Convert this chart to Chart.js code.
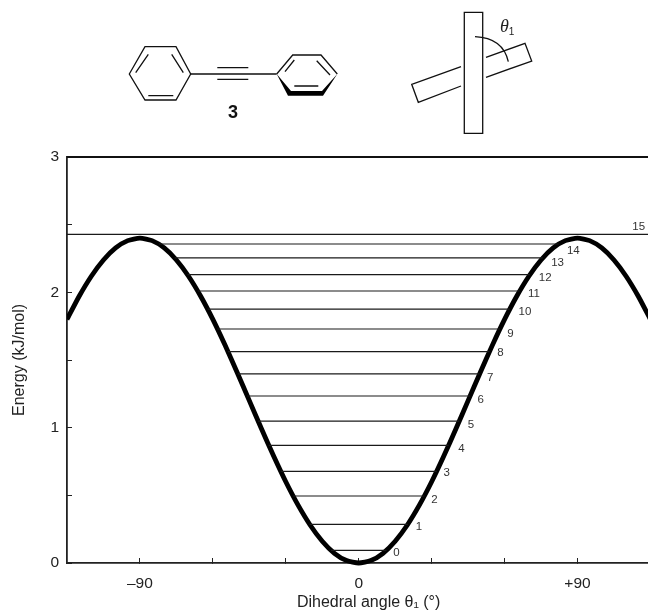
<!DOCTYPE html>
<html>
<head>
<meta charset="utf-8">
<title>Torsional energy levels</title>
<script src="https://cdn.jsdelivr.net/npm/chart.js@4"></script>
<style>
html,body{margin:0;padding:0;background:#fff;width:648px;height:610px;overflow:hidden}
#wrap{position:relative;width:648px;height:610px}
canvas{position:absolute;left:0;top:0}
svg{position:absolute;left:0;top:0;pointer-events:none}
</style>
</head>
<body>
<div id="wrap">
<canvas id="c" width="648" height="610"></canvas>
<svg width="648" height="150" viewBox="0 0 648 150" fill="none" stroke="#111" stroke-width="1.3">
  <path d="M129.3 74L145 46.7H176L190.7 74L176 100H145Z"/>
  <path d="M135.7 72.7L148.3 54.3M171.7 54.3L183.3 72.7M148.3 95.7H173.3"/>
  <path d="M190.7 74H276.7M217.3 67.7H248.3M217.3 79.3H248.3"/>
  <path d="M276.7 74L292.7 55H321L337.3 74"/>
  <path d="M285 71.7L294.3 60M316.7 60.7L330 75M294.3 86H318.3"/>
  <path d="M276.7 74L288 95.8H323L337.3 74L322 91H291Z" fill="#000" stroke="none"/>
  <text x="233" y="118" font-family="'Liberation Sans'" font-weight="700" font-size="18" fill="#111" stroke="none" text-anchor="middle">3</text>
  <path d="M464.3 12.3H482.7V133.3H464.3Z"/>
  <path d="M461 66.7L411.7 84.3L418.3 102.3L461 86M486 57.3L525 43.3L531.7 61L486 77.3"/>
  <path d="M475 36.7Q503 38 508.3 61.7"/>
  <text x="500" y="32" font-family="'Liberation Serif'" font-style="italic" font-size="18" fill="#222" stroke="none">θ<tspan font-size="10" dy="3" font-style="normal" font-family="'Liberation Sans'">1</tspan></text>
</svg>
</div>
<script>
const angles = [-120,-115,-110,-105,-100,-95,-90,-85,-80,-75,-70,-65,-60,-55,-50,-45,-40,-35,-30,-25,-20,-15,-10,-5,0,5,10,15,20,25,30,35,40,45,50,55,60,65,70,75,80,85,90,95,100,105,110,115,120];
const energies = [1.800,1.971,2.119,2.239,2.328,2.382,2.400,2.382,2.328,2.239,2.119,1.971,1.800,1.610,1.408,1.200,0.992,0.790,0.600,0.429,0.281,0.161,0.072,0.018,0,0.018,0.072,0.161,0.281,0.429,0.600,0.790,0.992,1.200,1.408,1.610,1.800,1.971,2.119,2.239,2.328,2.382,2.400,2.382,2.328,2.239,2.119,1.971,1.800];
const levelNames = ['0','1','2','3','4','5','6','7','8','9','10','11','12','13','14','15'];
const levelEnergy = [0.094,0.286,0.495,0.677,0.869,1.049,1.234,1.397,1.562,1.729,1.876,2.01,2.131,2.254,2.357,2.429];
const levelHalfWidth = [11.4,20.2,27,32.1,37,41.4,45.8,49.7,53.8,58.1,62.1,66.2,70.4,75.7,82.2,120];
const labelAngle = [15.5,24.8,31.2,36.2,42.3,46.2,50.2,54.1,58.3,62.4,68.4,72.1,76.7,81.8,88.3,115.2];
const labelEnergy = [0.074,0.266,0.468,0.663,0.847,1.018,1.209,1.370,1.552,1.697,1.854,1.986,2.104,2.22,2.306,2.483];
const xTickLabels = {'-90':'\u201390','0':'0','90':'+90'};
const yTickLabels = {'0':'0','1':'1','2':'2','3':'3'};
const xRange = [-120,119];
const yRange = [0,3];

const datasets = levelEnergy.map((e,i)=>({
  label:'Level '+levelNames[i],
  data:[{x:-levelHalfWidth[i],y:e},{x:levelHalfWidth[i],y:e}],
  borderColor:'#1a1a1a',borderWidth:1.2,pointRadius:0,tension:0
}));
datasets.push({
  label:'Upper limit',
  data:[{x:xRange[0],y:yRange[1]},{x:xRange[1],y:yRange[1]}],
  borderColor:'#111',borderWidth:1.8,pointRadius:0,clip:{left:0,top:3,right:0,bottom:0}
});
datasets.push({
  label:'Potential energy',
  data:angles.map((a,i)=>({x:a,y:energies[i]})),
  borderColor:'#000',borderWidth:4.8,pointRadius:0,tension:0.2,borderJoinStyle:'round',
  clip:{left:0,top:0,right:0,bottom:3}
});

const levelLabelPlugin = {
  id:'levelLabels',
  afterDatasetsDraw(chart){
    const {ctx,scales:{x,y}} = chart;
    ctx.save();
    ctx.font = "11.5px 'Liberation Sans'";
    ctx.fillStyle = '#333';
    ctx.textAlign = 'center';
    ctx.textBaseline = 'middle';
    levelNames.forEach((n,i)=>ctx.fillText(n,x.getPixelForValue(labelAngle[i]),y.getPixelForValue(labelEnergy[i])));
    ctx.restore();
  }
};

new Chart(document.getElementById('c'),{
  type:'line',
  data:{datasets},
  plugins:[levelLabelPlugin],
  options:{
    responsive:false,
    animation:false,
    devicePixelRatio:1,
    parsing:false,
    normalized:true,
    layout:{padding:{top:157,right:0,left:0,bottom:0},autoPadding:false},
    plugins:{legend:{display:false},title:{display:false},tooltip:{enabled:false}},
    scales:{
      x:{
        type:'linear',min:xRange[0],max:xRange[1],
        afterBuildTicks(s){s.ticks=s.ticks.filter(t=>t.value%30===0&&t.value>xRange[0]);},
        afterFit(s){s.height=47;s.paddingRight=0;s.paddingLeft=0;},
        border:{color:'#222',width:1.8},
        grid:{drawOnChartArea:false,drawTicks:true,tickLength:-5,color:'#222',tickWidth:1},
        ticks:{
          stepSize:30,padding:16,maxRotation:0,autoSkip:false,color:'#222',
          font:{family:"'Liberation Sans'",size:15.5},
          callback:v=>xTickLabels[String(v)]||''
        },
        title:{
          display:true,
          text:'\u00a0\u00a0\u00a0\u00a0\u00a0Dihedral angle \u03b8\u2081 (\u00b0)',
          color:'#222',padding:{top:0,bottom:-2},
          font:{family:"'Liberation Sans'",size:16}
        }
      },
      y:{
        type:'linear',min:yRange[0],max:yRange[1],
        afterFit(s){s.width=67;},
        border:{color:'#222',width:1.8},
        grid:{drawOnChartArea:false,drawTicks:true,tickLength:-5,color:'#222',tickWidth:1},
        ticks:{
          stepSize:0.5,padding:13,autoSkip:false,color:'#222',
          font:{family:"'Liberation Sans'",size:15.5},
          callback:v=>yTickLabels[String(v)]||''
        },
        title:{
          display:true,
          text:'Energy (kJ/mol)',
          color:'#222',padding:{top:10,bottom:0},
          font:{family:"'Liberation Sans'",size:16}
        }
      }
    }
  }
});
</script>
</body>
</html>
